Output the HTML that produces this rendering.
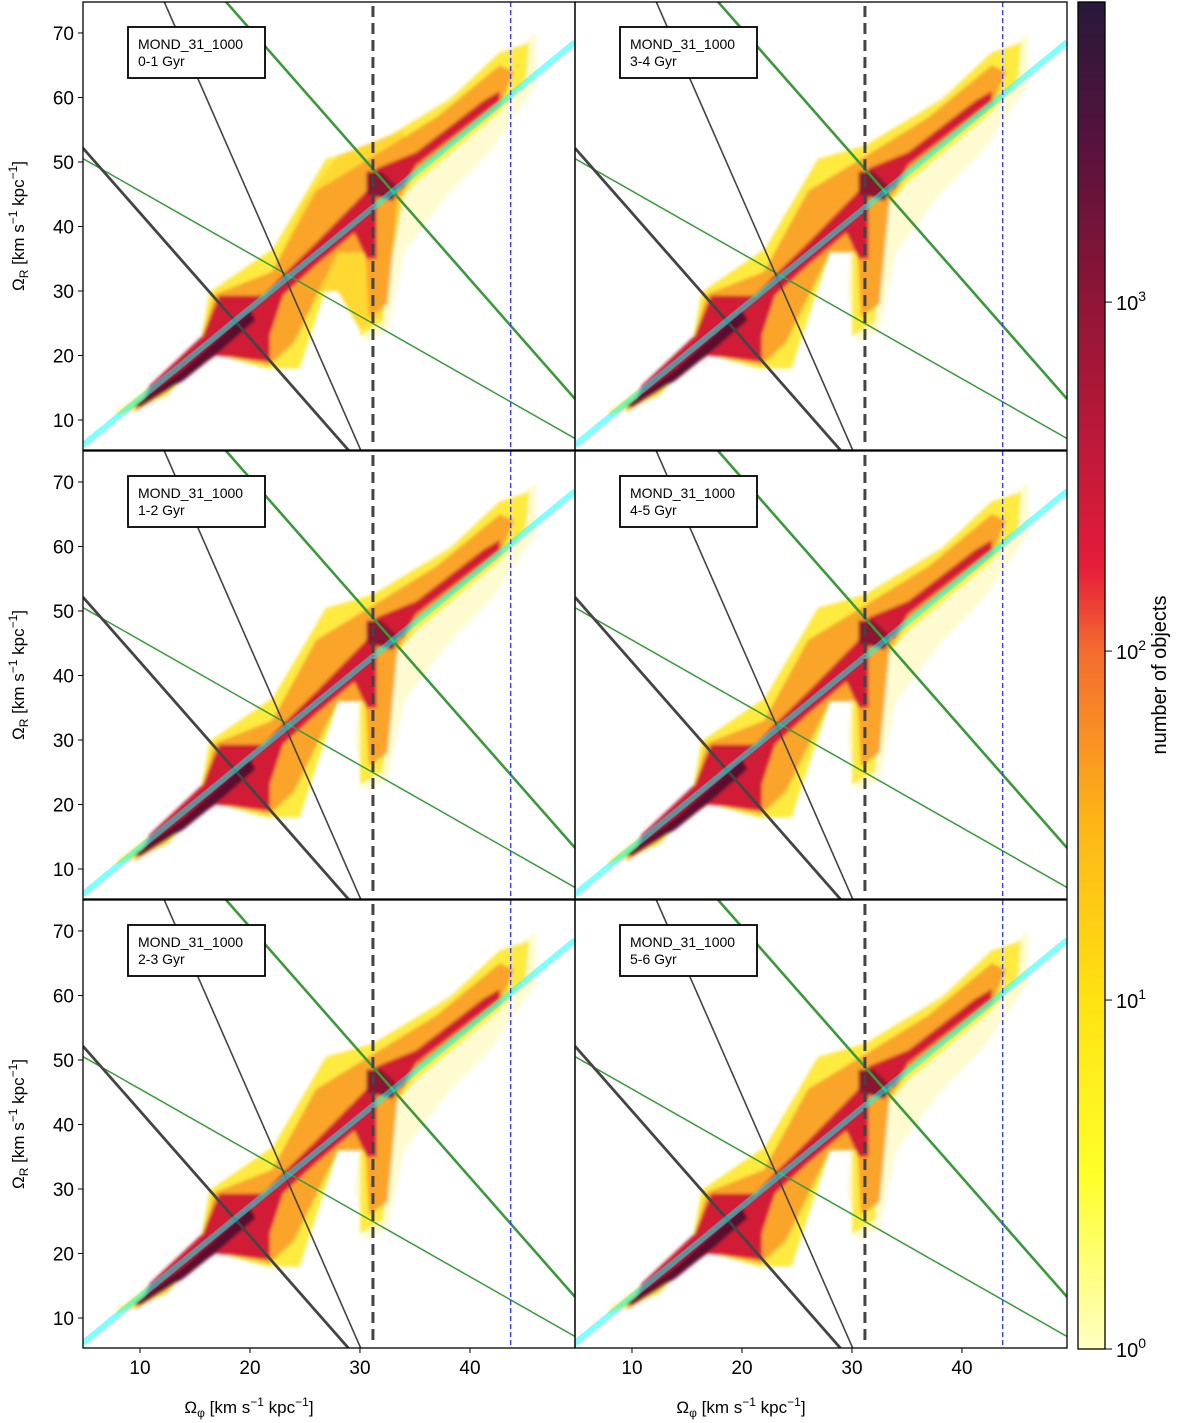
<!DOCTYPE html>
<html><head><meta charset="utf-8">
<style>
html,body{margin:0;padding:0;background:#fff;width:1200px;height:1423px;overflow:hidden;position:relative;}
svg{display:block;position:absolute;left:0;top:0;font-family:"Liberation Sans","DejaVu Sans",sans-serif;}
</style></head>
<body>
<svg id="chart" width="1200" height="1423" viewBox="0 0 1200 1423" xmlns="http://www.w3.org/2000/svg" overflow="hidden">
<defs>
<filter id="soft" x="-5%" y="-5%" width="110%" height="110%"><feGaussianBlur stdDeviation="1.6"/></filter>
<linearGradient id="cbar" x1="0" y1="1" x2="0" y2="0">
<stop offset="0" stop-color="#ffffc4"/>
<stop offset="0.13" stop-color="#ffff28"/>
<stop offset="0.26" stop-color="#ffe212"/>
<stop offset="0.39" stop-color="#fdb616"/>
<stop offset="0.52" stop-color="#f46a30"/>
<stop offset="0.58" stop-color="#e61c3a"/>
<stop offset="0.78" stop-color="#8e1537"/>
<stop offset="0.9" stop-color="#55123c"/>
<stop offset="1" stop-color="#27193b"/>
</linearGradient>
</defs>
</svg>
<script>
const NS="http://www.w3.org/2000/svg";
const svg=document.getElementById('chart');
// ---- data ----
const panelLabels=["0-1 Gyr","3-4 Gyr","1-2 Gyr","4-5 Gyr","2-3 Gyr","5-6 Gyr"];
const runName="MOND_31_1000";
const xTicks=[10,20,30,40];
const yTicks=[10,20,30,40,50,60,70];
const cbTicks=[0,1,2,3];
// lines: R = slope*phi + intercept
const lineSlopes=[1.397,-1.94,-3.89,-1.94,-0.97];
const lineIntercepts=[-0.63,61.5,122.3,109.4,55.2];
const lineNames=["resonance-line-cyan","black-thick-line","black-thin-line","green-thick-line","green-thin-line"];
const vBlack=31.18, vBlue=43.7;
// density contours (phi,R)
const fringePoly=[[31,52],[38,60],[43,66],[46,70],[46,62],[42,52],[38,45],[34,36],[32.5,24],[30.5,22],[29.5,30]];
const yellowPoly=[[7.9,11.2],[15.4,21],[16.3,29.8],[22.1,36.6],[26.9,50.5],[31.2,52.6],[38.2,59.8],[42.7,67],[45.4,68.5],[45.1,62.9],[42.7,57.7],[35.1,46.9],[33,42.8],[32.1,25.2],[30,23],[30,38.6],[28.2,37.1],[24.5,18],[21.5,18],[16.3,20.5],[12.4,13.8],[7.9,10.7]];
const yellowWide=[[22,33],[25,44],[28,51],[31,53],[34,55],[34,45],[33,36],[32,26],[30,24],[28,30],[25,30]];
const orangePoly=[[9.5,12.2],[15.5,22],[16.8,29.5],[22,33],[26,45.5],[31.3,51],[37,57],[42.7,65],[44,64],[42.7,58.7],[35.1,48.5],[33.4,44],[32.5,28],[30.8,26],[30.5,36],[28,36],[24,22],[21.8,18.5],[16.5,20.3],[12.4,14.2],[9.5,11.3]];
const redPoly=[[10.9,15.4],[15.7,23.1],[17.2,29.3],[21.2,29.3],[23,32.5],[26,37.5],[30.6,45.5],[31.5,49],[35.1,51.5],[41.2,59.5],[42.7,61],[42.7,59.5],[35.1,49.5],[33.9,45.9],[31.5,44.8],[31.5,35],[30.6,35],[29.5,39],[26,34],[23,29.3],[21.8,23.1],[21.8,19],[16.9,20],[12.4,14.9],[10.3,13.3]];
const darkPoly=[[9.5,12.3],[14,18],[17,22.5],[20,27],[20.5,25.5],[17.5,21],[14,16.2],[10,12]];
const darkBlob=[[30.6,45],[30.6,48.5],[32,48.5],[33.5,46],[33,44]];

// ---- layout ----
const cols=[83,575], pw=492;
const rows=[2,451,900], ph=448;
const xMin=4.82,xMax=49.55,yMin=5.35,yMax=74.8;
function el(tag,attrs,parent){const e=document.createElementNS(NS,tag);for(const k in attrs)e.setAttribute(k,attrs[k]);(parent||svg).appendChild(e);return e;}

for(let i=0;i<6;i++){
  const c=i%2, r=Math.floor(i/2);
  const x0=cols[c], y0=rows[r];
  const sx=v=>x0+(v-xMin)/(xMax-xMin)*pw;
  const sy=v=>y0+ph-(v-yMin)/(yMax-yMin)*ph;
  const g=el('g',{});
  
  
  const cid='clip'+i;
  const cp=el('clipPath',{id:cid},g); el('rect',{x:x0,y:y0,width:pw,height:ph},cp);
  const inner=el('g',{'clip-path':'url(#'+cid+')'},g);
  const dens=el('g',{filter:'url(#soft)'},inner);
  
  
  const poly=(pts,fill)=>{const p=el('polygon',{points:pts.map(q=>sx(q[0]).toFixed(1)+','+sy(q[1]).toFixed(1)).join(' '),fill:fill},dens);return p;};
  poly(fringePoly,'#fffbd0');
  poly(yellowPoly,'#ffea40');
  if(i===0){poly(yellowWide,'#ffd832');}
  poly(orangePoly,'#fba42a');
  poly(redPoly,'#d21e34');
  poly(darkPoly,'#5a0f2e');
  poly(darkBlob,'#8a1233');
  // lines
  const widths=[6,2.8,1.6,2.6,1.5], colors=['#00ffff','#444','#444','#3a9a3a','#3a9a3a'], ops=[0.5,1,1,1,1];
  for(let k=4;k>=0;k--){
    const a=lineSlopes[k],b=lineIntercepts[k];
    const ln=el('line',{x1:sx(xMin),y1:sy(a*xMin+b),x2:sx(xMax),y2:sy(a*xMax+b),stroke:colors[k],'stroke-width':widths[k],'stroke-opacity':ops[k]},inner);
    
    
  }
  const vb=el('line',{x1:sx(vBlack),y1:y0+4,x2:sx(vBlack),y2:y0+ph-4,stroke:'#444','stroke-width':3,'stroke-dasharray':'11,6'},inner);
  
  
  const vl=el('line',{x1:sx(vBlue),y1:y0,x2:sx(vBlue),y2:y0+ph,stroke:'#3a3aff','stroke-width':1.4,'stroke-dasharray':'5,3'},inner);
  
  
  // frame
  const fr=el('rect',{x:x0,y:y0,width:pw,height:ph,fill:'none',stroke:'#000','stroke-width':1.3},g);
  
  
  // legend box
  const lb=el('g',{},g);
  
  
  el('rect',{x:x0+45,y:y0+25,width:137,height:51,fill:'#fff',stroke:'#000','stroke-width':1.8},lb);
  const t1=el('text',{x:x0+55,y:y0+47,'font-size':14},lb);t1.textContent=runName;
  const t2=el('text',{x:x0+55,y:y0+64,'font-size':14},lb);t2.textContent=panelLabels[i];
  // y ticks
  if(c===0){
    yTicks.forEach(v=>{el('line',{x1:x0-5,y1:sy(v),x2:x0,y2:sy(v),stroke:'#000','stroke-width':1},g);
      const t=el('text',{x:x0-9,y:sy(v)+7,'font-size':19,'text-anchor':'end'},g);t.textContent=v;
      });
    const yl=el('text',{transform:`translate(24,${y0+ph/2}) rotate(-90)`,'font-size':17,'text-anchor':'middle'},g);
    
    yl.innerHTML='Ω<tspan font-size="12" dy="4">R</tspan><tspan dy="-4"> [km s</tspan><tspan font-size="12" dy="-7">−1</tspan><tspan dy="7"> kpc</tspan><tspan font-size="12" dy="-7">−1</tspan><tspan dy="7">]</tspan>';
  }
  if(r===2){
    xTicks.forEach(v=>{el('line',{x1:sx(v),y1:y0+ph,x2:sx(v),y2:y0+ph+5,stroke:'#000','stroke-width':1},g);
      const t=el('text',{x:sx(v),y:y0+ph+26,'font-size':19,'text-anchor':'middle'},g);t.textContent=v;
      });
    const xl=el('text',{x:x0+pw/2-80,y:1413,'font-size':17,'text-anchor':'middle'},g);
    
    xl.innerHTML='Ω<tspan font-size="12" dy="4">φ</tspan><tspan dy="-4"> [km s</tspan><tspan font-size="12" dy="-7">−1</tspan><tspan dy="7"> kpc</tspan><tspan font-size="12" dy="-7">−1</tspan><tspan dy="7">]</tspan>';
  }
}
// colorbar
const cb=el('g',{});


const cbTop=2,cbBot=1349,cbMaxLog=3.86;
el('rect',{x:1078,y:cbTop,width:27,height:cbBot-cbTop,fill:'url(#cbar)',stroke:'#000','stroke-width':1.3},cb);
const cy=v=>cbBot-(v/cbMaxLog)*(cbBot-cbTop);
cbTicks.forEach(v=>{el('line',{x1:1105,y1:cy(v),x2:1112,y2:cy(v),stroke:'#000','stroke-width':1},cb);
  const t=el('text',{x:1116,y:cy(v)+8,'font-size':20},cb);
  t.innerHTML='10<tspan font-size="14" dy="-9">'+v+'</tspan>';
  });
const cbl=el('text',{transform:'translate(1166,675) rotate(-90)','font-size':20,'text-anchor':'middle'},cb);
cbl.textContent='number of objects';


</script>
</body></html>
